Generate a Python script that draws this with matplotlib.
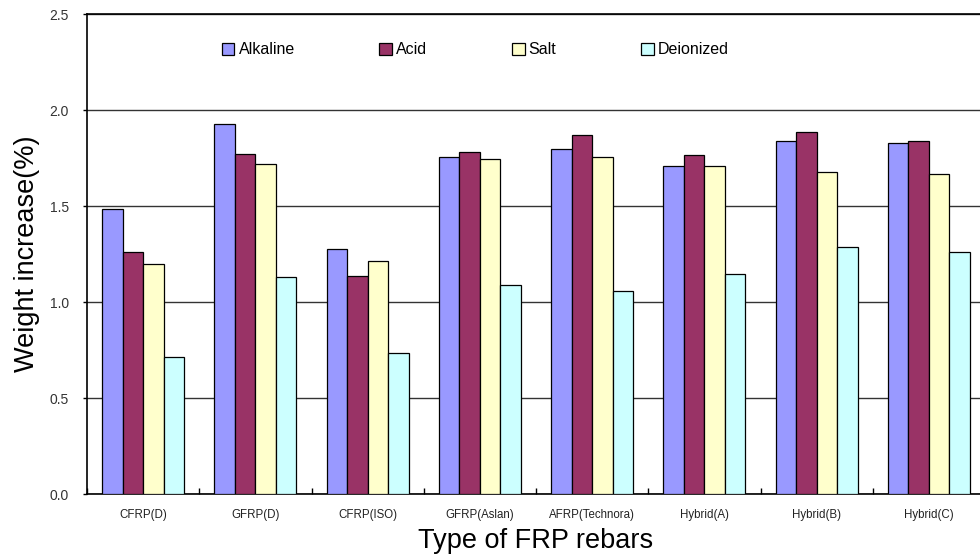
import matplotlib
matplotlib.use("Agg")
import matplotlib.pyplot as plt
import numpy as np

categories = ["CFRP(D)", "GFRP(D)", "CFRP(ISO)", "GFRP(Aslan)",
              "AFRP(Technora)", "Hybrid(A)", "Hybrid(B)", "Hybrid(C)"]
series_names = ["Alkaline", "Acid", "Salt", "Deionized"]
alkaline = [1.484, 1.925, 1.274, 1.757, 1.795, 1.708, 1.839, 1.828]
acid = [1.259, 1.769, 1.135, 1.781, 1.872, 1.767, 1.885, 1.837]
salt = [1.200, 1.720, 1.215, 1.746, 1.757, 1.708, 1.677, 1.665]
deionized = [0.712, 1.128, 0.733, 1.087, 1.059, 1.146, 1.286, 1.259]
y_ticks = [0.0, 0.5, 1.0, 1.5, 2.0, 2.5]

colors = ["#9999FF", "#993366", "#FFFFCC", "#CCFFFF"]
values = [alkaline, acid, salt, deionized]

plt.rcParams["font.family"] = ["Liberation Sans", "DejaVu Sans"]

W, H = 980, 557
fig = plt.figure(figsize=(W / 100, H / 100), dpi=100)
left, right, top, bottom = 87, 985, 14, 494
ax = fig.add_axes([left / W, 1 - bottom / H, (right - left) / W, (bottom - top) / H])

x = np.arange(len(categories))
bar_w = 0.183
offsets = (np.arange(4) - 1.5) * bar_w
for i in range(4):
    ax.bar(x + offsets[i], values[i], width=bar_w, color=colors[i],
           edgecolor="black", linewidth=0.9, label=series_names[i], zorder=3)

ax.set_xlim(-0.5, len(categories) - 0.5)
ax.set_ylim(0, 2.5)
ax.set_yticks(y_ticks)
ax.set_yticklabels([f"{v:.1f}" for v in y_ticks], fontsize=10, color="#333333")
ax.yaxis.grid(True, color="#333333", linewidth=1.0, zorder=0)
ax.set_axisbelow(True)

# category labels centered, ticks at category boundaries
ax.set_xticks(x)
ax.set_xticklabels(categories, fontsize=8.3, color="#222222")
ax.tick_params(axis="x", which="major", length=0, pad=11)
ax.set_xticks(np.arange(len(categories) + 1) - 0.5, minor=True)
ax.tick_params(axis="x", which="minor", direction="in", length=4, width=1)
ax.tick_params(axis="y", direction="out", length=3, width=1, pad=10)

for s in ["left", "bottom", "top"]:
    ax.spines[s].set_linewidth(1.2)
ax.spines["right"].set_visible(False)

ax.set_ylabel("Weight increase(%)", fontsize=19.5, labelpad=7)
ax.set_xlabel("Type of FRP rebars", fontsize=19.5, labelpad=5)

leg = ax.legend(ncol=4, loc="center left", bbox_to_anchor=(0.15, 0.925),
                frameon=False, fontsize=11.5, handlelength=0.8, handleheight=0.8,
                handletextpad=0.25, columnspacing=5.3, borderaxespad=0,
                borderpad=0)

fig.savefig("out.png", dpi=100)
